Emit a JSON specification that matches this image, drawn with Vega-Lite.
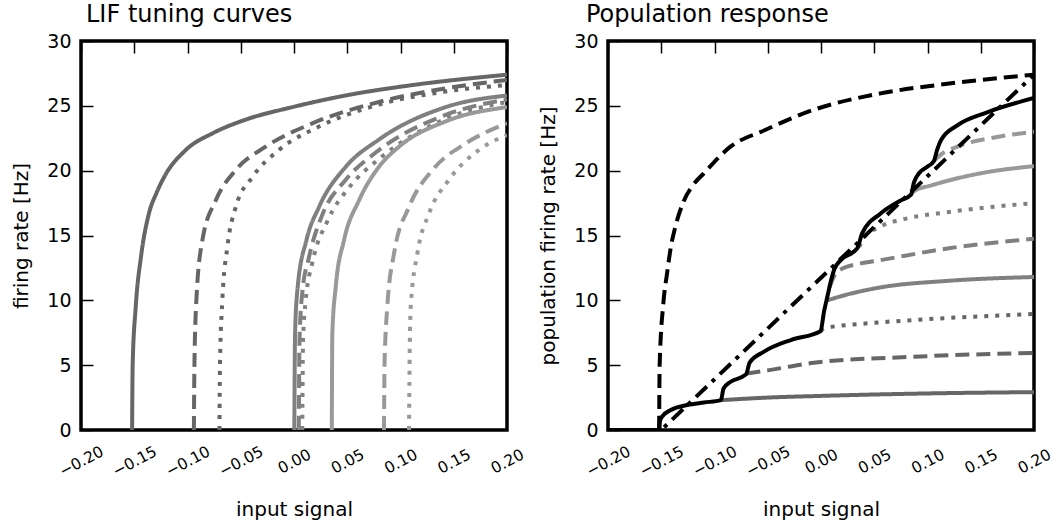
{
  "$schema": "https://vega.github.io/schema/vega-lite/v6.json",
  "padding": {"left": 10, "top": 0, "right": 5, "bottom": 0},
  "spacing": 101,
  "bounds": "flush",
  "config": {
    "font": "DejaVu Sans",
    "view": {"stroke": "black", "strokeWidth": 3.5},
    "axis": {"domain": false, "ticks": false, "grid": true, "gridColor": "black", "gridWidth": 1.5, "gridOpacity": 1, "gridDash": [12, 2000], "zindex": 1, "labelFont": "DejaVu Sans", "labelColor": "black", "labelFlush": false, "labelOverlap": false, "titleFont": "DejaVu Sans", "titleFontSize": 20, "titleFontWeight": "normal", "titleColor": "black"},
    "axisX": {"labelFontSize": 15.5},
    "axisY": {"labelFontSize": 19},
    "title": {"font": "DejaVu Sans", "fontSize": 24, "fontWeight": "normal", "anchor": "start", "frame": "group", "color": "black", "baseline": "alphabetic"}
  },
  "datasets": {
    "tuning": [
      {"n": "n1", "x": -0.152, "r": 0}, {"n": "n1", "x": -0.1515, "r": 5}, {"n": "n1", "x": -0.1486, "r": 9.5}, {"n": "n1", "x": -0.1436, "r": 13.4}, {"n": "n1", "x": -0.1362, "r": 16.7}, {"n": "n1", "x": -0.129, "r": 18.3}, {"n": "n1", "x": -0.122, "r": 19.5}, {"n": "n1", "x": -0.1015, "r": 21.6}, {"n": "n1", "x": -0.076, "r": 22.9}, {"n": "n1", "x": -0.0466, "r": 23.9}, {"n": "n1", "x": -0.0016, "r": 24.9}, {"n": "n1", "x": 0.0486, "r": 25.8}, {"n": "n1", "x": 0.1111, "r": 26.6}, {"n": "n1", "x": 0.2, "r": 27.4},
      {"n": "n2", "x": -0.094, "r": 0}, {"n": "n2", "x": -0.0935, "r": 5}, {"n": "n2", "x": -0.0917, "r": 10}, {"n": "n2", "x": -0.086, "r": 14.65}, {"n": "n2", "x": -0.0735, "r": 17.7}, {"n": "n2", "x": -0.0547, "r": 20.05}, {"n": "n2", "x": -0.0266, "r": 21.85}, {"n": "n2", "x": 0.0172, "r": 23.65}, {"n": "n2", "x": 0.0798, "r": 25.3}, {"n": "n2", "x": 0.1424, "r": 26.35}, {"n": "n2", "x": 0.2, "r": 27.0},
      {"n": "n3", "x": -0.07, "r": 0}, {"n": "n3", "x": -0.0695, "r": 5}, {"n": "n3", "x": -0.0673, "r": 10}, {"n": "n3", "x": -0.0626, "r": 14.1}, {"n": "n3", "x": -0.0547, "r": 17.2}, {"n": "n3", "x": -0.0391, "r": 19.5}, {"n": "n3", "x": -0.0141, "r": 21.6}, {"n": "n3", "x": 0.0235, "r": 23.4}, {"n": "n3", "x": 0.0798, "r": 25.1}, {"n": "n3", "x": 0.1424, "r": 26.1}, {"n": "n3", "x": 0.2, "r": 26.6},
      {"n": "n4", "x": 0.0003, "r": 0}, {"n": "n4", "x": 0.001, "r": 7.45}, {"n": "n4", "x": 0.0035, "r": 11.05}, {"n": "n4", "x": 0.0117, "r": 14.65}, {"n": "n4", "x": 0.0235, "r": 17.2}, {"n": "n4", "x": 0.0486, "r": 20.3}, {"n": "n4", "x": 0.0798, "r": 22.4}, {"n": "n4", "x": 0.1424, "r": 24.9}, {"n": "n4", "x": 0.2, "r": 25.8},
      {"n": "n5", "x": 0.0045, "r": 0}, {"n": "n5", "x": 0.0052, "r": 7.0}, {"n": "n5", "x": 0.0078, "r": 10.6}, {"n": "n5", "x": 0.014, "r": 13.3}, {"n": "n5", "x": 0.0266, "r": 16.6}, {"n": "n5", "x": 0.0486, "r": 19.3}, {"n": "n5", "x": 0.0767, "r": 21.4}, {"n": "n5", "x": 0.1424, "r": 24.3}, {"n": "n5", "x": 0.2, "r": 25.5},
      {"n": "n6", "x": 0.0078, "r": 0}, {"n": "n6", "x": 0.0085, "r": 7.0}, {"n": "n6", "x": 0.011, "r": 10.0}, {"n": "n6", "x": 0.0172, "r": 12.9}, {"n": "n6", "x": 0.0313, "r": 16.1}, {"n": "n6", "x": 0.0517, "r": 18.7}, {"n": "n6", "x": 0.0798, "r": 20.9}, {"n": "n6", "x": 0.1424, "r": 24.0}, {"n": "n6", "x": 0.2, "r": 25.3},
      {"n": "n7", "x": 0.0355, "r": 0}, {"n": "n7", "x": 0.036, "r": 7.45}, {"n": "n7", "x": 0.0392, "r": 11.05}, {"n": "n7", "x": 0.047, "r": 14.65}, {"n": "n7", "x": 0.061, "r": 17.7}, {"n": "n7", "x": 0.0798, "r": 20.3}, {"n": "n7", "x": 0.0986, "r": 21.85}, {"n": "n7", "x": 0.1424, "r": 23.8}, {"n": "n7", "x": 0.2, "r": 24.9},
      {"n": "n8", "x": 0.0845, "r": 0}, {"n": "n8", "x": 0.085, "r": 5}, {"n": "n8", "x": 0.0876, "r": 9.5}, {"n": "n8", "x": 0.0939, "r": 13.6}, {"n": "n8", "x": 0.108, "r": 17.2}, {"n": "n8", "x": 0.13, "r": 20.05}, {"n": "n8", "x": 0.1612, "r": 22.1}, {"n": "n8", "x": 0.2, "r": 23.65},
      {"n": "n9", "x": 0.108, "r": 0}, {"n": "n9", "x": 0.1085, "r": 5}, {"n": "n9", "x": 0.1096, "r": 9.5}, {"n": "n9", "x": 0.1158, "r": 13.6}, {"n": "n9", "x": 0.1268, "r": 16.7}, {"n": "n9", "x": 0.1455, "r": 19.3}, {"n": "n9", "x": 0.1737, "r": 21.6}, {"n": "n9", "x": 0.2, "r": 22.75}
    ],
    "partial": [
      {"s": "s1", "x": -0.094, "r": 2.3}, {"s": "s1", "x": -0.05, "r": 2.5}, {"s": "s1", "x": 0.0, "r": 2.63}, {"s": "s1", "x": 0.1, "r": 2.82}, {"s": "s1", "x": 0.2, "r": 2.92},
      {"s": "s2", "x": -0.07, "r": 4.35}, {"s": "s2", "x": -0.05, "r": 4.6}, {"s": "s2", "x": -0.0066, "r": 5.19}, {"s": "s2", "x": 0.0873, "r": 5.65}, {"s": "s2", "x": 0.2, "r": 5.95},
      {"s": "s3", "x": 0.0, "r": 7.62}, {"s": "s3", "x": 0.0028, "r": 7.84}, {"s": "s3", "x": 0.04, "r": 8.2}, {"s": "s3", "x": 0.0873, "r": 8.48}, {"s": "s3", "x": 0.2, "r": 8.95},
      {"s": "s4", "x": 0.006, "r": 10.0}, {"s": "s4", "x": 0.0247, "r": 10.45}, {"s": "s4", "x": 0.056, "r": 11.0}, {"s": "s4", "x": 0.1186, "r": 11.5}, {"s": "s4", "x": 0.2, "r": 11.8},
      {"s": "s5", "x": 0.008, "r": 11.0}, {"s": "s5", "x": 0.0125, "r": 11.9}, {"s": "s5", "x": 0.02, "r": 12.45}, {"s": "s5", "x": 0.035, "r": 12.8}, {"s": "s5", "x": 0.056, "r": 13.1}, {"s": "s5", "x": 0.1186, "r": 14.0}, {"s": "s5", "x": 0.2, "r": 14.75},
      {"s": "s6", "x": 0.036, "r": 14.1}, {"s": "s6", "x": 0.039, "r": 14.7}, {"s": "s6", "x": 0.056, "r": 15.7}, {"s": "s6", "x": 0.08, "r": 16.3}, {"s": "s6", "x": 0.1186, "r": 16.8}, {"s": "s6", "x": 0.2, "r": 17.5},
      {"s": "s7", "x": 0.0845, "r": 18.15}, {"s": "s7", "x": 0.088, "r": 18.45}, {"s": "s7", "x": 0.103, "r": 18.85}, {"s": "s7", "x": 0.15, "r": 19.8}, {"s": "s7", "x": 0.2, "r": 20.35},
      {"s": "s8", "x": 0.106, "r": 20.75}, {"s": "s8", "x": 0.112, "r": 21.2}, {"s": "s8", "x": 0.128, "r": 21.85}, {"s": "s8", "x": 0.1656, "r": 22.6}, {"s": "s8", "x": 0.2, "r": 23.0}
    ],
    "total": [
      {"x": -0.2, "r": 0}, {"x": -0.152, "r": 0}, {"x": -0.1512, "r": 0.7}, {"x": -0.149, "r": 1.05}, {"x": -0.141, "r": 1.54}, {"x": -0.1255, "r": 1.93}, {"x": -0.11, "r": 2.12}, {"x": -0.094, "r": 2.3}, {"x": -0.0915, "r": 3.2}, {"x": -0.0848, "r": 3.72}, {"x": -0.072, "r": 4.2}, {"x": -0.07, "r": 4.35}, {"x": -0.067, "r": 5.2}, {"x": -0.0535, "r": 6.04}, {"x": -0.0284, "r": 6.94}, {"x": -0.0005, "r": 7.62}, {"x": 0.003, "r": 9.2}, {"x": 0.006, "r": 10.3}, {"x": 0.009, "r": 11.4}, {"x": 0.0125, "r": 12.4}, {"x": 0.0185, "r": 13.1}, {"x": 0.034, "r": 14.0}, {"x": 0.0388, "r": 15.2}, {"x": 0.056, "r": 16.7}, {"x": 0.0748, "r": 17.7}, {"x": 0.0845, "r": 18.15}, {"x": 0.0873, "r": 19.1}, {"x": 0.092, "r": 19.8}, {"x": 0.0998, "r": 20.3}, {"x": 0.106, "r": 20.75}, {"x": 0.109, "r": 21.6}, {"x": 0.113, "r": 22.4}, {"x": 0.128, "r": 23.5}, {"x": 0.156, "r": 24.5}, {"x": 0.2, "r": 25.6}
    ],
    "first": [
      {"x": -0.152, "r": 0}, {"x": -0.1515, "r": 5}, {"x": -0.148, "r": 9.8}, {"x": -0.1445, "r": 12.1}, {"x": -0.141, "r": 14.1}, {"x": -0.137, "r": 15.6}, {"x": -0.1286, "r": 17.7}, {"x": -0.12, "r": 18.9}, {"x": -0.11, "r": 19.8}, {"x": -0.085, "r": 21.85}, {"x": -0.0535, "r": 23.1}, {"x": -0.0066, "r": 24.7}, {"x": 0.056, "r": 25.96}, {"x": 0.1186, "r": 26.7}, {"x": 0.2, "r": 27.4}
    ],
    "target": [
      {"x": -0.15, "r": 0}, {"x": 0.2, "r": 27.4}
    ]
  },
  "hconcat": [
    {
      "width": 426, "height": 389,
      "title": {"text": "LIF tuning curves", "dx": 5, "offset": 5.5},
      "resolve": {"axis": {"x": "independent", "y": "independent"}},
      "layer": [
        {
          "data": {"name": "tuning"},
          "mark": {"type": "line", "clip": true, "interpolate": "monotone", "strokeWidth": 4, "strokeCap": "butt"},
          "encoding": {
            "x": {"field": "x", "type": "quantitative", "scale": {"domain": [-0.2, 0.2], "nice": false, "zero": false}, "axis": {"orient": "bottom", "values": [-0.2, -0.15, -0.1, -0.05, 0, 0.05, 0.1, 0.15, 0.2], "format": ".2f", "labelAngle": -28, "labelAlign": "center", "labelBaseline": "middle", "labelPadding": 31, "title": "input signal", "titlePadding": 20}},
            "y": {"field": "r", "type": "quantitative", "scale": {"domain": [0, 30], "nice": false}, "axis": {"orient": "left", "values": [0, 5, 10, 15, 20, 25, 30], "labelPadding": 10, "title": "firing rate [Hz]", "titlePadding": 15}},
            "color": {"field": "n", "type": "nominal", "scale": {"domain": ["n1", "n2", "n3", "n4", "n5", "n6", "n7", "n8", "n9"], "range": ["#666666", "#666666", "#666666", "#808080", "#808080", "#808080", "#999999", "#999999", "#999999"]}, "legend": null},
            "strokeDash": {"field": "n", "type": "nominal", "scale": {"domain": ["n1", "n2", "n3", "n4", "n5", "n6", "n7", "n8", "n9"], "range": [[1, 0], [14, 7], [4, 7], [1, 0], [14, 7], [4, 7], [1, 0], [14, 7], [4, 7]]}, "legend": null}
          }
        },
        {
          "data": {"name": "target"},
          "mark": {"type": "point", "opacity": 0},
          "encoding": {
            "x": {"field": "x", "type": "quantitative", "axis": {"orient": "top", "values": [-0.2, -0.15, -0.1, -0.05, 0, 0.05, 0.1, 0.15, 0.2], "labels": false, "title": null}},
            "y": {"field": "r", "type": "quantitative", "axis": {"orient": "right", "values": [0, 5, 10, 15, 20, 25, 30], "labels": false, "title": null}}
          }
        }
      ]
    },
    {
      "width": 426, "height": 389,
      "title": {"text": "Population response", "dx": -22, "offset": 5.5},
      "resolve": {"axis": {"x": "independent", "y": "independent"}},
      "layer": [
        {
          "data": {"name": "partial"},
          "mark": {"type": "line", "clip": true, "interpolate": "monotone", "strokeWidth": 4, "strokeCap": "butt"},
          "encoding": {
            "x": {"field": "x", "type": "quantitative", "scale": {"domain": [-0.2, 0.2], "nice": false, "zero": false}, "axis": {"orient": "bottom", "values": [-0.2, -0.15, -0.1, -0.05, 0, 0.05, 0.1, 0.15, 0.2], "format": ".2f", "labelAngle": -28, "labelAlign": "center", "labelBaseline": "middle", "labelPadding": 31, "title": "input signal", "titlePadding": 20}},
            "y": {"field": "r", "type": "quantitative", "scale": {"domain": [0, 30], "nice": false}, "axis": {"orient": "left", "values": [0, 5, 10, 15, 20, 25, 30], "labelPadding": 10, "title": "population firing rate [Hz]", "titlePadding": 15}},
            "color": {"field": "s", "type": "nominal", "scale": {"domain": ["s1", "s2", "s3", "s4", "s5", "s6", "s7", "s8"], "range": ["#666666", "#666666", "#666666", "#808080", "#808080", "#808080", "#999999", "#999999"]}, "legend": null},
            "strokeDash": {"field": "s", "type": "nominal", "scale": {"domain": ["s1", "s2", "s3", "s4", "s5", "s6", "s7", "s8"], "range": [[1, 0], [14, 7], [4, 7], [1, 0], [14, 7], [4, 7], [1, 0], [14, 7]]}, "legend": null}
          }
        },
        {
          "data": {"name": "first"},
          "mark": {"type": "line", "clip": true, "interpolate": "monotone", "strokeWidth": 4, "strokeCap": "butt", "color": "black", "strokeDash": [14, 7]},
          "encoding": {"x": {"field": "x", "type": "quantitative", "axis": null}, "y": {"field": "r", "type": "quantitative", "axis": null}}
        },
        {
          "data": {"name": "total"},
          "mark": {"type": "line", "clip": true, "interpolate": "monotone", "strokeWidth": 4, "strokeCap": "butt", "color": "black"},
          "encoding": {"x": {"field": "x", "type": "quantitative", "axis": null}, "y": {"field": "r", "type": "quantitative", "axis": null}}
        },
        {
          "data": {"name": "target"},
          "mark": {"type": "line", "clip": true, "strokeWidth": 4, "strokeCap": "butt", "color": "black", "strokeDash": [15, 7, 4, 7], "strokeDashOffset": 18},
          "encoding": {"x": {"field": "x", "type": "quantitative", "axis": null}, "y": {"field": "r", "type": "quantitative", "axis": null}}
        },
        {
          "data": {"name": "target"},
          "mark": {"type": "point", "opacity": 0},
          "encoding": {
            "x": {"field": "x", "type": "quantitative", "axis": {"orient": "top", "values": [-0.2, -0.15, -0.1, -0.05, 0, 0.05, 0.1, 0.15, 0.2], "labels": false, "title": null}},
            "y": {"field": "r", "type": "quantitative", "axis": {"orient": "right", "values": [0, 5, 10, 15, 20, 25, 30], "labels": false, "title": null}}
          }
        }
      ]
    }
  ]
}
